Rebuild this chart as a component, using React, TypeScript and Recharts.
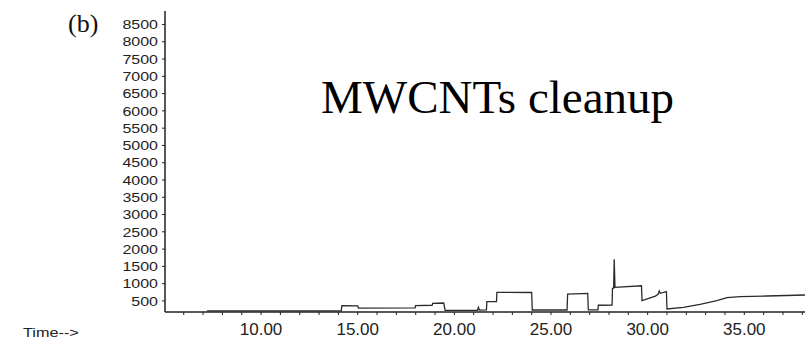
import React from "react";
import { LineChart, Line, XAxis, YAxis } from "recharts";

// Retention time (min) and abundance
const timeMin = [
  7.2, 14.15, 14.18, 15.0, 15.04, 17.97, 17.99, 18.85, 18.88, 19.45, 19.52,
  20.3, 21.2, 21.24, 21.3, 21.66, 21.68, 22.18, 22.2, 24.0, 24.03, 25.83,
  25.86, 26.9, 26.93, 27.43, 27.45, 28.16, 28.18, 28.24, 28.27, 28.31, 29.68,
  29.71, 30.4, 30.55, 30.6, 30.66, 30.97, 31.0, 31.85, 32.71, 33.58, 34.1,
  34.78, 36.16, 38.14,
];
const abundance = [
  210, 210, 360, 355, 290, 300, 362, 375, 432, 440, 225,
  225, 230, 316, 235, 240, 478, 478, 750, 745, 238, 238,
  695, 720, 240, 240, 375, 380, 866, 870, 1705, 895, 940,
  507, 640, 700, 790, 720, 770, 267, 316, 403, 507, 594,
  623, 643, 672,
];

const yTicks = [500, 1000, 1500, 2000, 2500, 3000, 3500, 4000, 4500, 5000, 5500, 6000, 6500, 7000, 7500, 8000, 8500];
const xTicks = [6, 7, 8, 9, 10, 11, 12, 13, 14, 15, 16, 17, 18, 19, 20, 21, 22, 23, 24, 25, 26, 27, 28, 29, 30, 31, 32, 33, 34, 35, 36, 37, 38];
const xLabelled = [10, 15, 20, 25, 30, 35];

const panelLabel = "(b)";
const titleText = "MWCNTs cleanup";
const xAxisLabel = "Time-->";

const data = timeMin.map((t, i) => ({ t, v: abundance[i] }));

const SANS = "Liberation Sans, Arial, Helvetica, sans-serif";
const SERIF = "Liberation Serif, Times New Roman, serif";
const INK = "#222";

const YTick = (props: any) => {
  const { x, y, payload } = props;
  return (
    <text
      transform={`translate(${x},${y}) scale(1.23,1)`}
      textAnchor="end"
      dy="0.36em"
      fontSize={13}
      fill={INK}
      fontFamily={SANS}
    >
      {payload.value}
    </text>
  );
};

const XTick = (props: any) => {
  const { x, y, payload } = props;
  const v = payload.value;
  if (!xLabelled.includes(v)) return <g />;
  return (
    <text x={x} y={y + 18} textAnchor="middle" fontSize={17} fill={INK} fontFamily={SANS}>
      {Number(v).toFixed(2)}
    </text>
  );
};

export default function App() {
  return (
    <div style={{ position: "absolute", left: 0, top: 0, width: 805, height: 340, background: "#fff" }}>
      <LineChart width={805} height={340} data={data} margin={{ top: 11, right: 0, bottom: 0, left: 0 }}>
        <XAxis
          dataKey="t"
          type="number"
          domain={[5.03, 38.14]}
          allowDataOverflow
          ticks={xTicks}
          interval={0}
          height={28}
          tickSize={3}
          tick={<XTick />}
          axisLine={{ stroke: INK, strokeWidth: 1.5 }}
          tickLine={{ stroke: INK, strokeWidth: 1 }}
        />
        <YAxis
          type="number"
          domain={[180, 8890]}
          allowDataOverflow
          ticks={yTicks}
          interval={0}
          width={165}
          tickSize={3}
          tickMargin={4}
          tick={<YTick />}
          axisLine={{ stroke: INK, strokeWidth: 1.5 }}
          tickLine={{ stroke: INK, strokeWidth: 1 }}
        />
        <Line
          type="linear"
          dataKey="v"
          stroke="#2b2b2b"
          strokeWidth={1.3}
          dot={false}
          activeDot={false}
          isAnimationActive={false}
        />
      </LineChart>
      <svg
        width={805}
        height={340}
        style={{ position: "absolute", left: 0, top: 0, pointerEvents: "none" }}
      >
        <text x={68} y={31.5} fontSize={26} fontFamily={SERIF} fill="#111">
          {panelLabel}
        </text>
        <text x={321} y={113} fontSize={47} fontFamily={SERIF} fill="#000">
          {titleText}
        </text>
        <text
          transform="translate(23,337) scale(1.3,1)"
          fontSize={12.5}
          fontFamily={SANS}
          fill={INK}
        >
          {xAxisLabel}
        </text>
      </svg>
    </div>
  );
}
